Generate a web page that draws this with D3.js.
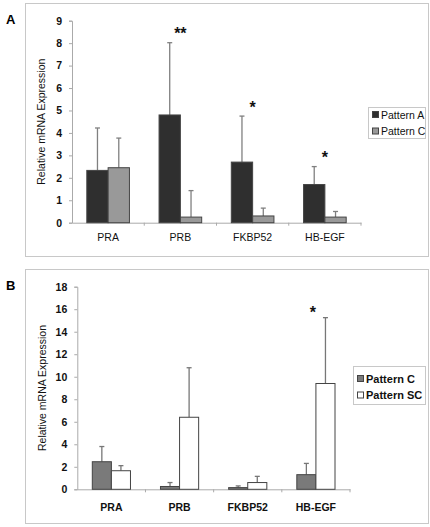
<!DOCTYPE html>
<html><head><meta charset="utf-8">
<script src="https://cdn.jsdelivr.net/npm/d3@7"></script>
<style>body{margin:0;background:#fff}svg{display:block;font-family:"Liberation Sans",Arial,sans-serif}</style>
</head><body><svg id="c" width="430" height="527"></svg>
<script>
const categories = ["PRA", "PRB", "FKBP52", "HB-EGF"];
// Panel A
const aSeries = ["Pattern A", "Pattern C"];
const aPatternA = [2.33, 4.8, 2.7, 1.7];
const aPatternAsd = [1.89, 3.22, 2.05, 0.8];
const aPatternC = [2.45, 0.25, 0.3, 0.25];
const aPatternCsd = [1.32, 1.18, 0.35, 0.25];
const aStars = ["", "**", "*", "*"];
const aTicks = [0,1,2,3,4,5,6,7,8,9];
// Panel B
const bSeries = ["Pattern C", "Pattern SC"];
const bPatternC = [2.45, 0.25, 0.15, 1.3];
const bPatternCsd = [1.35, 0.35, 0.15, 1.0];
const bPatternSC = [1.65, 6.4, 0.6, 9.4];
const bPatternSCsd = [0.45, 4.4, 0.55, 5.85];
const bStars = ["", "", "", "*"];
const bTicks = [0,2,4,6,8,10,12,14,16,18];

const svg = d3.select("#c");

function panel(o){
  const g = svg.append("g");
  g.append("rect").attr("x",o.frame[0]+0.5).attr("y",o.frame[1]+0.5)
    .attr("width",o.frame[2]-o.frame[0]).attr("height",o.frame[3]-o.frame[1])
    .attr("fill","none").attr("stroke","#c8c8c8");
  g.append("text").attr("x",6).attr("y",o.letterY).attr("font-size",13).attr("font-weight","bold").text(o.letter);
  const x = d3.scaleBand().domain(categories).range([o.x0,o.x1]).paddingInner(o.pad).paddingOuter(o.pad/2);
  const x1 = d3.scaleBand().domain([0,1]).range([0,x.bandwidth()]);
  const y = d3.scaleLinear().domain([0,o.max]).range([o.y0,o.yTop]);
  // y axis
  const ya = g.append("g").attr("transform",`translate(${o.x0},0)`)
    .call(d3.axisLeft(y).tickValues(o.ticks).tickSize(3).tickPadding(7).tickFormat(d3.format("d")));
  ya.select(".domain").attr("stroke","#aaa");
  ya.selectAll(".tick line").attr("stroke","#aaa");
  ya.selectAll("text").attr("font-size",10.5).attr("font-weight","bold").attr("fill","#111").attr("font-family","Liberation Sans, Arial, sans-serif");
  // x axis
  const xa = g.append("g").attr("transform",`translate(0,${o.y0})`)
    .call(d3.axisBottom(x).tickSize(0).tickPadding(o.labelPad));
  xa.select(".domain").attr("stroke","#aaa");
  xa.selectAll("text").attr("font-size",o.catSize).attr("font-weight",o.catWeight).attr("fill","#111").attr("font-family","Liberation Sans, Arial, sans-serif");
  const step = x.step();
  const seps = d3.range(categories.length+1).map(i=>o.x0+i*step);
  g.selectAll("line.sep").data(seps.slice(1)).join("line").attr("class","sep")
    .attr("x1",d=>d).attr("x2",d=>d).attr("y1",o.y0).attr("y2",o.y0+3).attr("stroke","#aaa");
  // y label
  g.append("text").attr("transform",`translate(${o.labelX},${(o.y0+o.yTop)/2}) rotate(-90)`)
    .attr("text-anchor","middle").attr("font-size",10.5).attr("fill","#111").text("Relative mRNA Expression");
  // bars
  o.series.forEach((s,si)=>{
    const vals = o.vals[si], sds = o.sds[si];
    const bg = g.append("g");
    bg.selectAll("line.err").data(categories).join("line")
      .attr("x1",(c)=>x(c)+x1(si)+x1.bandwidth()/2).attr("x2",(c)=>x(c)+x1(si)+x1.bandwidth()/2)
      .attr("y1",(c,i)=>y(vals[i])).attr("y2",(c,i)=>y(vals[i]+sds[i])).attr("stroke",o.errColor).attr("stroke-width",1.3);
    bg.selectAll("line.cap").data(categories).join("line")
      .attr("x1",(c)=>x(c)+x1(si)+x1.bandwidth()/2-2.5).attr("x2",(c)=>x(c)+x1(si)+x1.bandwidth()/2+2.5)
      .attr("y1",(c,i)=>y(vals[i]+sds[i])).attr("y2",(c,i)=>y(vals[i]+sds[i])).attr("stroke",o.errColor).attr("stroke-width",1.3);
    bg.selectAll("rect").data(categories).join("rect")
      .attr("x",c=>x(c)+x1(si)).attr("width",x1.bandwidth())
      .attr("y",(c,i)=>y(vals[i])).attr("height",(c,i)=>o.y0-y(vals[i]))
      .attr("fill",o.colors[si]).attr("stroke","#444").attr("stroke-width",1);
  });
  // stars
  g.selectAll("text.star").data(categories).join("text").attr("class","star")
    .attr("x",c=>x(c)+x.bandwidth()/2+o.starDx).attr("y",(c,i)=>o.starY[i])
    .attr("text-anchor","middle").attr("font-size",16).attr("font-weight","bold").attr("fill","#111")
    .text((c,i)=>o.stars[i]);
  // legend
  const L = o.legend;
  g.append("rect").attr("x",L.x+0.5).attr("y",L.y+0.5).attr("width",L.w).attr("height",L.h)
    .attr("fill","#fff").attr("stroke","#c8c8c8");
  o.series.forEach((s,si)=>{
    const yy = L.y + L.firstY + si*L.gap;
    g.append("rect").attr("x",L.x+4.5).attr("y",yy-3.5).attr("width",6).attr("height",6)
      .attr("fill",o.colors[si]).attr("stroke","#444");
    g.append("text").attr("x",L.x+13).attr("y",yy+3.8).attr("font-size",L.fs).attr("font-weight",L.fw).attr("fill","#111").text(s);
  });
}

panel({letter:"A", letterY:24, frame:[25,3,428,256], x0:72, x1:361, y0:222.7, yTop:20.7, max:9, ticks:aTicks,
  pad:0.41, series:aSeries, vals:[aPatternA,aPatternC], sds:[aPatternAsd,aPatternCsd],
  colors:["#2f2f2f","#999999"], errColor:"#808080", stars:aStars, starY:[0,39,113,163], starDx:0,
  labelX:45, labelPad:11, catSize:10.5, catWeight:"normal",
  legend:{x:368,y:107,w:57,h:31,firstY:8,gap:16.5,fs:10.5,fw:"normal"}});

panel({letter:"B", letterY:290, frame:[25,269,428,523], x0:77.3, x1:350, y0:489.3, yTop:286.7, max:18, ticks:bTicks,
  pad:0.44, series:bSeries, vals:[bPatternC,bPatternSC], sds:[bPatternCsd,bPatternSCsd],
  colors:["#7a7a7a","#ffffff"], errColor:"#777777", stars:bStars, starY:[0,0,0,318], starDx:-3,
  labelX:46, labelPad:14, catSize:10.5, catWeight:"bold",
  legend:{x:353,y:366,w:72,h:38,firstY:13,gap:16.5,fs:11,fw:"bold"}});
</script></body></html>
